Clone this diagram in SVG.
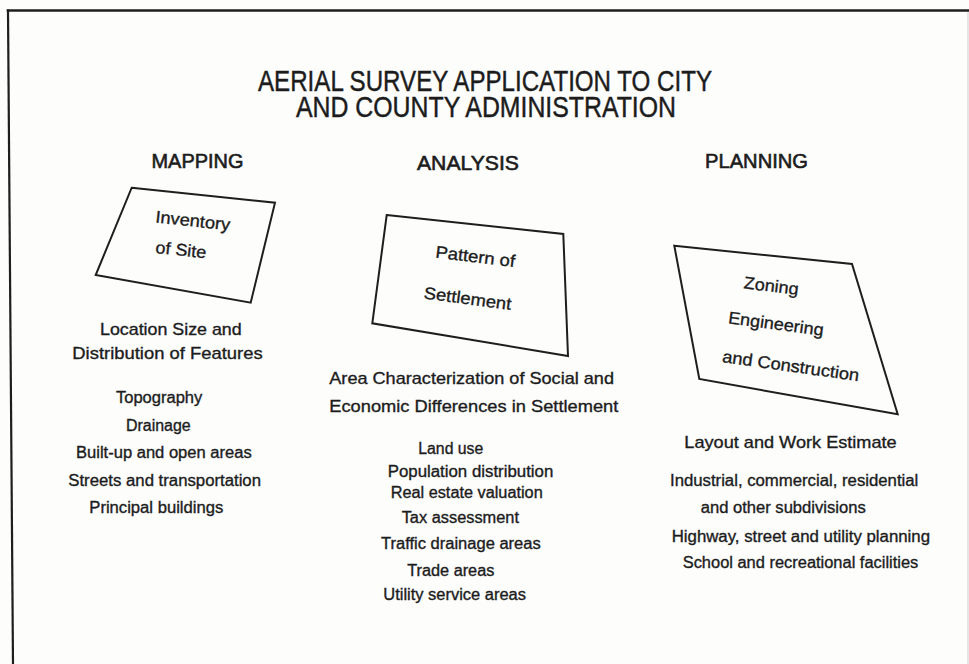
<svg xmlns="http://www.w3.org/2000/svg" width="969" height="664" viewBox="0 0 969 664">
  <style>
    .bg { fill: #fdfdfc; }
    .frame { fill: none; stroke: #1e1e1e; stroke-linecap: square; }
    .box { fill: none; stroke: #1e1e1e; stroke-width: 2; stroke-linejoin: miter; }
    .txt { font-family: "Liberation Sans", Arial, Helvetica, sans-serif; fill: #1c1c1c; stroke: #1c1c1c; stroke-width: 0.35; }
    .title { font-size: 30px; text-anchor: start; stroke-width: 0.45; }
    .head { font-size: 20px; stroke-width: 0.6; }
    .sub { font-size: 17px; }
    .item { font-size: 16px; }
    .label { font-size: 17px; }
  </style>

  <rect class="bg" x="0" y="0" width="969" height="664"/>

  <!-- page frame -->
  <g id="frame">
    <line class="frame" x1="8" y1="10.5" x2="969" y2="10.5" stroke-width="2.6"/>
    <line class="frame" x1="8" y1="10.5" x2="13" y2="664" stroke-width="2.2"/>
    <line x1="968" y1="12" x2="968" y2="664" stroke="#cfcfcf" stroke-width="1"/>
  </g>

  <!-- heading -->
  <g id="title" class="txt title">
    <text x="258" y="91" textLength="454" lengthAdjust="spacingAndGlyphs">AERIAL SURVEY APPLICATION TO CITY</text>
    <text x="296" y="116.5" textLength="380" lengthAdjust="spacingAndGlyphs">AND COUNTY ADMINISTRATION</text>
  </g>

  <!-- column headings -->
  <g id="col-headings" class="txt head">
    <text x="151.5" y="168" textLength="92" lengthAdjust="spacingAndGlyphs">MAPPING</text>
    <text x="417" y="170" textLength="102" lengthAdjust="spacingAndGlyphs">ANALYSIS</text>
    <text x="705" y="168" textLength="103" lengthAdjust="spacingAndGlyphs">PLANNING</text>
  </g>

  <!-- connectors: none drawn, columns stand on their own -->
  <g id="connectors"/>

  <!-- MAPPING column -->
  <g id="node-inventory">
    <polygon class="box" points="131.7,187.7 275,202.7 250.7,302.7 95.7,275"/>
    <g class="txt label">
      <text x="155" y="222.5" transform="rotate(6 155 222.5)" textLength="75" lengthAdjust="spacingAndGlyphs">Inventory</text>
      <text x="155" y="253" transform="rotate(6 155 253)" textLength="51" lengthAdjust="spacingAndGlyphs">of Site</text>
    </g>
  </g>

  <g id="node-mapping-detail" class="txt">
    <text class="sub" x="100" y="335" textLength="141.7" lengthAdjust="spacingAndGlyphs">Location Size and</text>
    <text class="sub" x="72.3" y="359" textLength="190.4" lengthAdjust="spacingAndGlyphs">Distribution of Features</text>
    <text class="item" x="116" y="403.3" textLength="86.3" lengthAdjust="spacingAndGlyphs">Topography</text>
    <text class="item" x="126" y="430.7" textLength="64.7" lengthAdjust="spacingAndGlyphs">Drainage</text>
    <text class="item" x="76" y="458.3" textLength="175.7" lengthAdjust="spacingAndGlyphs">Built-up and open areas</text>
    <text class="item" x="68.3" y="486" textLength="192.7" lengthAdjust="spacingAndGlyphs">Streets and transportation</text>
    <text class="item" x="89.3" y="512.7" textLength="134" lengthAdjust="spacingAndGlyphs">Principal buildings</text>
  </g>

  <!-- ANALYSIS column -->
  <g id="node-settlement">
    <polygon class="box" points="386.7,215 563.3,234 568,356 372.3,323.3"/>
    <g class="txt label">
      <text x="435" y="257.5" transform="rotate(7 435 257.5)" textLength="80" lengthAdjust="spacingAndGlyphs">Pattern of</text>
      <text x="423.3" y="298.5" transform="rotate(7.5 423.3 298.5)" textLength="88" lengthAdjust="spacingAndGlyphs">Settlement</text>
    </g>
  </g>

  <g id="node-analysis-detail" class="txt">
    <text class="sub" x="329.3" y="384.3" textLength="284.7" lengthAdjust="spacingAndGlyphs">Area Characterization of Social and</text>
    <text class="sub" x="329.3" y="411.7" textLength="289" lengthAdjust="spacingAndGlyphs">Economic Differences in Settlement</text>
    <text class="item" x="418.3" y="454" textLength="65" lengthAdjust="spacingAndGlyphs">Land use</text>
    <text class="item" x="387.7" y="476.7" textLength="165.6" lengthAdjust="spacingAndGlyphs">Population distribution</text>
    <text class="item" x="390.7" y="498.3" textLength="152" lengthAdjust="spacingAndGlyphs">Real estate valuation</text>
    <text class="item" x="401.7" y="522.7" textLength="117.3" lengthAdjust="spacingAndGlyphs">Tax assessment</text>
    <text class="item" x="381" y="549.3" textLength="159.7" lengthAdjust="spacingAndGlyphs">Traffic drainage areas</text>
    <text class="item" x="407.3" y="576" textLength="87" lengthAdjust="spacingAndGlyphs">Trade areas</text>
    <text class="item" x="383.3" y="600" textLength="142.7" lengthAdjust="spacingAndGlyphs">Utility service areas</text>
  </g>

  <!-- PLANNING column -->
  <g id="node-zoning">
    <polygon class="box" points="674.3,245.7 852,264 897.7,414.3 699.3,379"/>
    <g class="txt label">
      <text x="743.3" y="288.3" transform="rotate(7 743.3 288.3)" textLength="55" lengthAdjust="spacingAndGlyphs">Zoning</text>
      <text x="727.7" y="323.3" transform="rotate(7.5 727.7 323.3)" textLength="96" lengthAdjust="spacingAndGlyphs">Engineering</text>
      <text x="721.7" y="362" transform="rotate(8 721.7 362)" textLength="138" lengthAdjust="spacingAndGlyphs">and Construction</text>
    </g>
  </g>

  <g id="node-planning-detail" class="txt">
    <text class="sub" x="684.3" y="448.3" textLength="212.4" lengthAdjust="spacingAndGlyphs">Layout and Work Estimate</text>
    <text class="item" x="670" y="486" textLength="248.3" lengthAdjust="spacingAndGlyphs">Industrial, commercial, residential</text>
    <text class="item" x="700.7" y="513.3" textLength="165" lengthAdjust="spacingAndGlyphs">and other subdivisions</text>
    <text class="item" x="671.7" y="541.7" textLength="258.3" lengthAdjust="spacingAndGlyphs">Highway, street and utility planning</text>
    <text class="item" x="682.7" y="568.3" textLength="235.6" lengthAdjust="spacingAndGlyphs">School and recreational facilities</text>
  </g>
</svg>
